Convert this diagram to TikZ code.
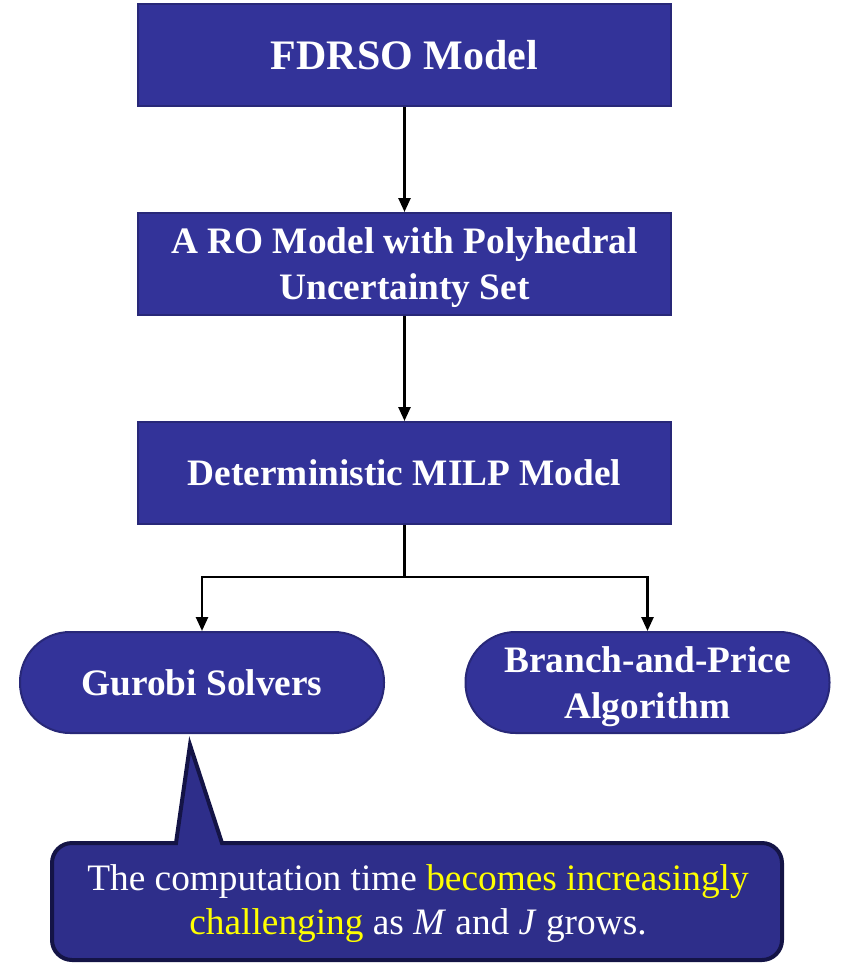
\documentclass[tikz,border=0pt]{standalone}
\usepackage{fontspec}
\setmainfont{Liberation Serif}
\usetikzlibrary{arrows.meta}
\definecolor{boxblue}{RGB}{51,51,153}
\definecolor{boxedge}{RGB}{40,40,120}
\definecolor{notefill}{RGB}{46,46,138}
\definecolor{noteedge}{RGB}{20,20,70}
\definecolor{hl}{RGB}{255,255,0}
\tikzset{
  flowbox/.style={rectangle, fill=boxblue, draw=boxedge, line width=1.5pt,
    minimum width=399.75pt, minimum height=76.5pt, inner sep=0pt,
    text=white, align=center,
    font=\bfseries\fontsize{28pt}{34.5pt}\selectfont},
  pillbox/.style={flowbox, rounded corners=37.5pt, minimum width=273pt, minimum height=75.75pt},
  link/.style={line width=1.9pt, -{Triangle[length=10.5pt,width=9pt]}}
}
\begin{document}
\begin{tikzpicture}[x=0.75pt,y=0.75pt]
\useasboundingbox (0,0) rectangle (848,-963);
\node[flowbox, font=\bfseries\fontsize{31.5pt}{34.5pt}\selectfont] (fdrso) at (404.5,-55.5) {FDRSO Model};
\node[flowbox, text depth=0pt] (ro) at (404.5,-264) {A RO Model with Polyhedral\\Uncertainty Set};
\node[flowbox] (milp) at (404.5,-473) {Deterministic MILP Model};
\node[pillbox] (gurobi) at (202,-682.5) {Gurobi Solvers};
\node[pillbox, text depth=0pt] (bp) at (647.5,-682.5) {Branch-and-Price\\Algorithm};
\coordinate (split) at (404.5,-577);
\draw[link] (fdrso) -- (ro);
\draw[link] (ro) -- (milp);
\draw[line width=1.9pt] (milp.south) -- (split);
\draw[link] (split) -| (gurobi.north);
\draw[link] (split) -| (bp.north);
\draw[fill=notefill, draw=noteedge, line width=3pt, line join=miter]
  (176,-843) -- (190,-745) -- (222,-843) -- (762,-843)
  arc[start angle=90,end angle=0,radius=20] -- (782,-940)
  arc[start angle=0,end angle=-90,radius=20] -- (72,-960)
  arc[start angle=-90,end angle=-180,radius=20] -- (52,-863)
  arc[start angle=180,end angle=90,radius=20] -- cycle;
\node[text=white, align=center, inner sep=0pt,
  font=\fontsize{28pt}{33pt}\selectfont] (note) at (418,-904)
  {The computation time \textcolor{hl}{becomes increasingly}\\
   \textcolor{hl}{challenging} as \textit{M} and \textit{J} grows.};
\end{tikzpicture}
\end{document}
